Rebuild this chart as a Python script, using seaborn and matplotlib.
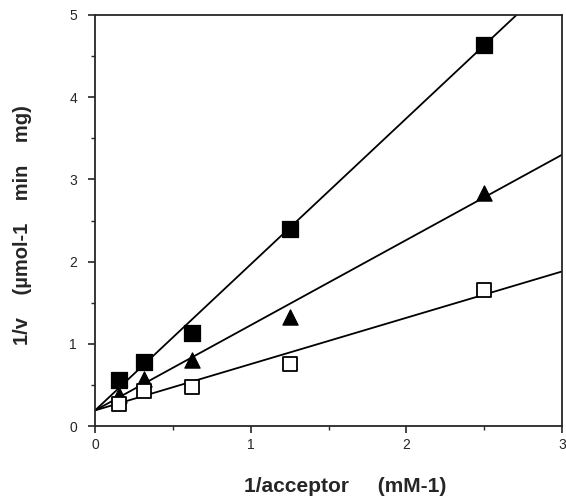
import matplotlib
matplotlib.use("Agg")
import matplotlib.pyplot as plt
from matplotlib.ticker import MultipleLocator
import pandas as pd
import seaborn as sns

# 1/acceptor (mM-1)
inv_acceptor = [0.156, 0.3125, 0.625, 1.25, 2.5]

# 1/v values
filled_square = [0.56, 0.78, 1.13, 2.40, 4.64]
filled_triangle = [0.38, 0.57, 0.80, 1.33, 2.83]
open_square = [0.27, 0.43, 0.47, 0.76, 1.65]

# fitted lines, end points
fit_x = [0.0, 3.0]
fit_filled_square = [0.19, 5.52]
fit_filled_triangle = [0.19, 3.30]
fit_open_square = [0.19, 1.88]

sns.set_style("ticks")
plt.rcParams["font.family"] = ["Liberation Sans", "DejaVu Sans"]

fig = plt.figure(figsize=(5.66, 5.0), dpi=100)
ax = fig.add_axes([0.168, 0.148, 0.825, 0.822])

for fy in (fit_filled_square, fit_filled_triangle, fit_open_square):
    sns.lineplot(x=fit_x, y=fy, ax=ax, color="black", linewidth=1.3)

pts = pd.DataFrame({
    "x": inv_acceptor * 3,
    "y": filled_square + filled_triangle + open_square,
    "set": ["fs"] * 5 + ["ft"] * 5 + ["os"] * 5,
})
sns.scatterplot(data=pts[pts["set"] == "fs"], x="x", y="y", ax=ax, marker="s",
                s=130, color="black", edgecolor="black", zorder=3, legend=False)
sns.scatterplot(data=pts[pts["set"] == "ft"], x="x", y="y", ax=ax, marker="^",
                s=120, color="black", edgecolor="black", zorder=3, legend=False)
sns.scatterplot(data=pts[pts["set"] == "os"], x="x", y="y", ax=ax, marker="s",
                s=110, color="white", edgecolor="black", linewidth=1.3, zorder=3,
                legend=False)

ax.set_xlim(0, 3)
ax.set_ylim(0, 5)
ax.xaxis.set_major_locator(MultipleLocator(1))
ax.xaxis.set_minor_locator(MultipleLocator(0.5))
ax.yaxis.set_major_locator(MultipleLocator(1))
ax.yaxis.set_minor_locator(MultipleLocator(0.5))
ax.tick_params(which="major", direction="out", length=5, width=1.2, labelsize=10)
ax.tick_params(which="minor", direction="out", length=3, width=1.0)
ax.tick_params(axis="y", pad=8)
for sp in ax.spines.values():
    sp.set_linewidth(1.3)
    sp.set_visible(True)

ax.set_xlabel("1/acceptor     (mM-1)", fontsize=15, fontweight="bold", va="top")
ax.xaxis.set_label_coords(0.535, -0.125)
ax.set_ylabel("1/v    (µmol-1    min    mg)", fontsize=14.5, fontweight="bold", va="center")
ax.yaxis.set_label_coords(-0.155, 0.49)

fig.savefig("out.png", dpi=100)
